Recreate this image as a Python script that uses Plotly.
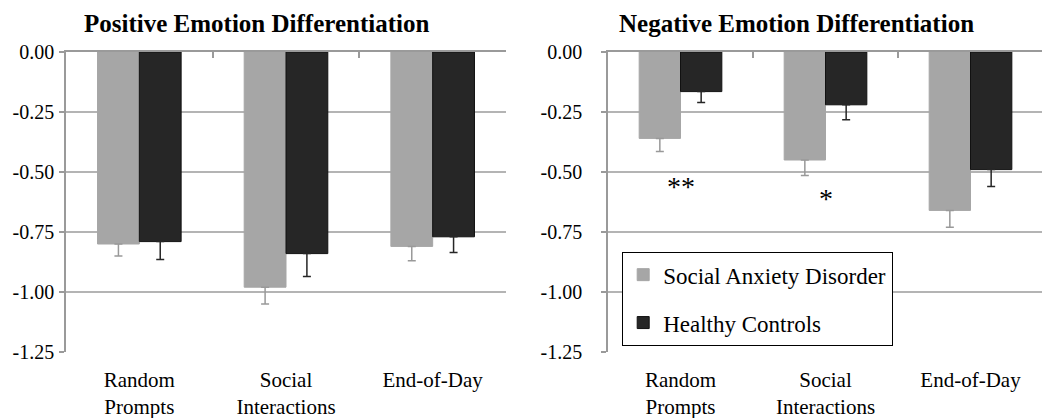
import plotly.graph_objects as go

categories = ["Random<br>Prompts", "Social<br>Interactions", "End-of-Day"]
groups = ["Social Anxiety Disorder", "Healthy Controls"]

pos_sad = [-0.80, -0.98, -0.81]
pos_sad_err = [0.05, 0.07, 0.06]
pos_hc = [-0.79, -0.84, -0.77]
pos_hc_err = [0.075, 0.095, 0.065]

neg_sad = [-0.36, -0.45, -0.66]
neg_sad_err = [0.055, 0.065, 0.07]
neg_hc = [-0.165, -0.22, -0.49]
neg_hc_err = [0.045, 0.062, 0.07]

sig_cats = [0, 1]
sig_text = ["**", "*"]
sig_y = [-0.56, -0.61]

titles = ["Positive Emotion Differentiation", "Negative Emotion Differentiation"]
y_ticks = [0, -0.25, -0.5, -0.75, -1.0, -1.25]
y_tick_labels = ["0.00", "-0.25", "-0.50", "-0.75", "-1.00", "-1.25"]

GRAY = "#a6a6a6"
DARK = "#262626"
GRID = "#b4b4b4"
FONT = "Liberation Serif"

fig = go.Figure()

def add_bars(vals, errs, name, color, xa, ya, show):
    fig.add_trace(go.Bar(
        x=categories, y=vals, name=name, xaxis=xa, yaxis=ya,
        marker=dict(color=color, line=dict(color=color if color == GRAY else "#111111", width=1)),
        error_y=dict(type="data", symmetric=False, array=[0] * len(errs), arrayminus=errs,
                     color="#999999" if color == GRAY else DARK, thickness=1.5, width=4),
        showlegend=show, legendgroup=name,
    ))

add_bars(pos_sad, pos_sad_err, groups[0], GRAY, "x", "y", False)
add_bars(pos_hc, pos_hc_err, groups[1], DARK, "x", "y", False)
add_bars(neg_sad, neg_sad_err, groups[0], GRAY, "x2", "y2", True)
add_bars(neg_hc, neg_hc_err, groups[1], DARK, "x2", "y2", True)

# empty traces so the top (zero-line) axes exist
fig.add_trace(go.Scatter(x=[], y=[], xaxis="x3", yaxis="y", showlegend=False))
fig.add_trace(go.Scatter(x=[], y=[], xaxis="x4", yaxis="y2", showlegend=False))

# page body has an 8px margin; lay out in target-window pixels
OFF = 8
W, H = 1050 - OFF, 418 - OFF

def px_x(x):
    return (x - OFF) / W

def px_y(y):
    return 1 - (y - OFF) / H

dom1 = [px_x(66), px_x(506)]
dom2 = [px_x(608), px_x(1043)]
ydom = [px_y(352), px_y(52)]

tick_font = dict(family=FONT, size=21, color="black")
ytick_font = dict(family=FONT, size=20, color="black")

def yax(anchor, standoff):
    return dict(domain=ydom, anchor=anchor, range=[-1.25, 0], tickmode="array",
                tickvals=y_ticks, ticktext=y_tick_labels,
                showgrid=True, gridcolor=GRID, gridwidth=1.5,
                showline=True, linecolor="#9a9a9a", linewidth=1.5, ticks="outside",
                ticklen=5, tickcolor="#9a9a9a", tickwidth=1.5, tickfont=ytick_font,
                zeroline=False, ticklabelstandoff=standoff, fixedrange=True, automargin=False)

def xax(dom, anchor):
    return dict(domain=dom, anchor=anchor, type="category", showline=False, ticks="",
                tickfont=tick_font, ticklabelstandoff=13, showgrid=False, fixedrange=True,
                automargin=False)

def topax(over, anchor):
    return dict(overlaying=over, anchor=anchor, side="top", type="linear", range=[-0.5, 2.5],
                showline=True, linecolor="#9a9a9a", linewidth=1.5, ticks="inside",
                tickvals=[0.5, 1.5, 2.5], ticklen=6, tickcolor="#9a9a9a", tickwidth=1.5,
                showticklabels=False, showgrid=False, zeroline=False, fixedrange=True,
                automargin=False)

fig.update_layout(
    width=W, height=H,
    margin=dict(l=0, r=0, t=0, b=0, autoexpand=False),
    paper_bgcolor="white", plot_bgcolor="white",
    barmode="group", bargap=0.43, bargroupgap=0,
    font=dict(family=FONT, size=21, color="black"),
    xaxis=xax(dom1, "y"), yaxis=yax("x", 1),
    xaxis2=xax(dom2, "y2"), yaxis2=yax("x2", 15),
    xaxis3=topax("x", "y"), xaxis4=topax("x2", "y2"),
    legend=dict(x=px_x(622), y=px_y(252), xanchor="left", yanchor="top",
                bordercolor="black", borderwidth=1.2, bgcolor="white",
                font=dict(family=FONT, size=23, color="black"),
                traceorder="grouped", tracegroupgap=15, itemwidth=30),
)

title_x = [px_x(256), px_x(796)]
for tx, t in zip(title_x, titles):
    fig.add_annotation(x=tx, y=1, xref="paper", yref="paper", text="<b>" + t + "</b>",
                       showarrow=False, xanchor="center", yanchor="top",
                       font=dict(family=FONT, size=25, color="black"))

for c, t, yv in zip(sig_cats, sig_text, sig_y):
    fig.add_annotation(x=c, y=yv, xref="x4", yref="y2", text=t, showarrow=False,
                       xanchor="center", yanchor="middle",
                       font=dict(family=FONT, size=28, color="black"))

fig.write_html("out.html")
